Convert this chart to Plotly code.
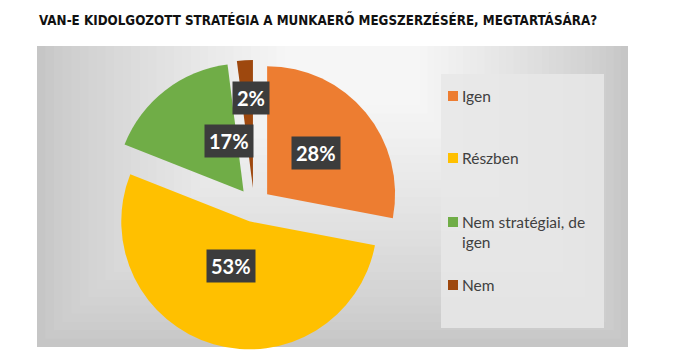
import math
import textwrap
import plotly.graph_objects as go

# ---- data ----
title_text = "VAN-E KIDOLGOZOTT STRATÉGIA A MUNKAERŐ MEGSZERZÉSÉRE, MEGTARTÁSÁRA?"
labels = ["Igen", "Részben", "Nem stratégiai, de igen", "Nem"]
values = [28, 53, 17, 2]
colors = ["#ED7D31", "#FFC000", "#70AD47", "#9E480E"]

# ---- layout/style settings (pixels) ----
W, H = 684, 360
pull = 0.133
pie_cx, pie_cy, pie_half = 254, 205, 145       # pie domain centre and half size
label_radius_frac = [0.5, 0.5, 0.5, 0.84]       # where Excel put each data label
label_xshift = [0, 0, 0, 5]
legend_item_y = [96, 158, 222, 285]            # legend entry (first line) centres
bg_box = (37, 46, 628, 347)
legend_box = (441, 74, 604, 328)


def px(x):
    return x / W


def py(y):
    return 1 - y / H


fig = go.Figure()
fig.add_trace(go.Pie(
    labels=labels,
    values=values,
    marker=dict(colors=colors, line=dict(width=0)),
    pull=[pull] * len(values),
    sort=False,
    direction="clockwise",
    rotation=0,
    textinfo="none",
    showlegend=False,
    domain=dict(x=[px(pie_cx - pie_half), px(pie_cx + pie_half)],
                y=[py(pie_cy + pie_half), py(pie_cy - pie_half)]),
))

shapes = []
# gradient-like chart background built from nested rectangles
N = 30
c_out, c_in = (198, 198, 198), (246, 246, 246)
inner = (285, 46, 420, 105)
for i in range(N):
    t = i / (N - 1)
    x0 = bg_box[0] + t * (inner[0] - bg_box[0])
    y0 = bg_box[1] + t * (inner[1] - bg_box[1])
    x1 = bg_box[2] + t * (inner[2] - bg_box[2])
    y1 = bg_box[3] + t * (inner[3] - bg_box[3])
    c = tuple(round(a + (b - a) * (t ** 0.8)) for a, b in zip(c_out, c_in))
    shapes.append(dict(type="rect", xref="paper", yref="paper", layer="below",
                       x0=px(x0), x1=px(x1), y0=py(y1), y1=py(y0),
                       fillcolor="rgb(%d,%d,%d)" % c, line=dict(width=0)))
# legend panel
shapes.append(dict(type="rect", xref="paper", yref="paper", layer="below",
                   x0=px(legend_box[0]), x1=px(legend_box[2]),
                   y0=py(legend_box[3]), y1=py(legend_box[1]),
                   fillcolor="rgba(232,232,232,0.85)", line=dict(width=0)))

annotations = []
# title
annotations.append(dict(text="<b>" + title_text + "</b>", x=px(37), y=py(19),
                        xref="paper", yref="paper", xanchor="left", yanchor="middle",
                        showarrow=False,
                        font=dict(family="DejaVu Sans Condensed", size=13.3, color="#111111")))

# data labels derived from values
total = sum(values)
r = pie_half / (1 + pull)
cum = 0
for i, v in enumerate(values):
    mid = (cum + v / 2) / total * 2 * math.pi
    cum += v
    dx, dy = math.sin(mid), -math.cos(mid)
    d = pull * r + label_radius_frac[i] * r
    lx, ly = pie_cx + d * dx, pie_cy + d * dy
    annotations.append(dict(text="<b>%d%%</b>" % round(v / total * 100),
                            x=px(lx), y=py(ly), xref="paper", yref="paper",
                            xshift=label_xshift[i],
                            showarrow=False, bgcolor="#3c3c3c", borderpad=4,
                            font=dict(family="Lato", size=20, color="white")))

# legend entries
for i, lab in enumerate(labels):
    yc = legend_item_y[i]
    shapes.append(dict(type="rect", xref="paper", yref="paper",
                       x0=px(448), x1=px(458), y0=py(yc + 5), y1=py(yc - 5),
                       fillcolor=colors[i], line=dict(width=0)))
    annotations.append(dict(text="<br>".join(textwrap.wrap(lab, 18)),
                            x=px(460), y=py(yc - 11), xref="paper", yref="paper",
                            xanchor="left", yanchor="top", align="left",
                            showarrow=False,
                            font=dict(family="Lato", size=15.5, color="#404040")))

fig.update_layout(
    width=W, height=H, autosize=False,
    margin=dict(l=0, r=0, t=0, b=0),
    paper_bgcolor="white", plot_bgcolor="white",
    shapes=shapes, annotations=annotations,
)
fig.write_html("out.html", config={"displayModeBar": False},
               post_script="document.body.style.margin='0';document.body.style.overflow='hidden';")
